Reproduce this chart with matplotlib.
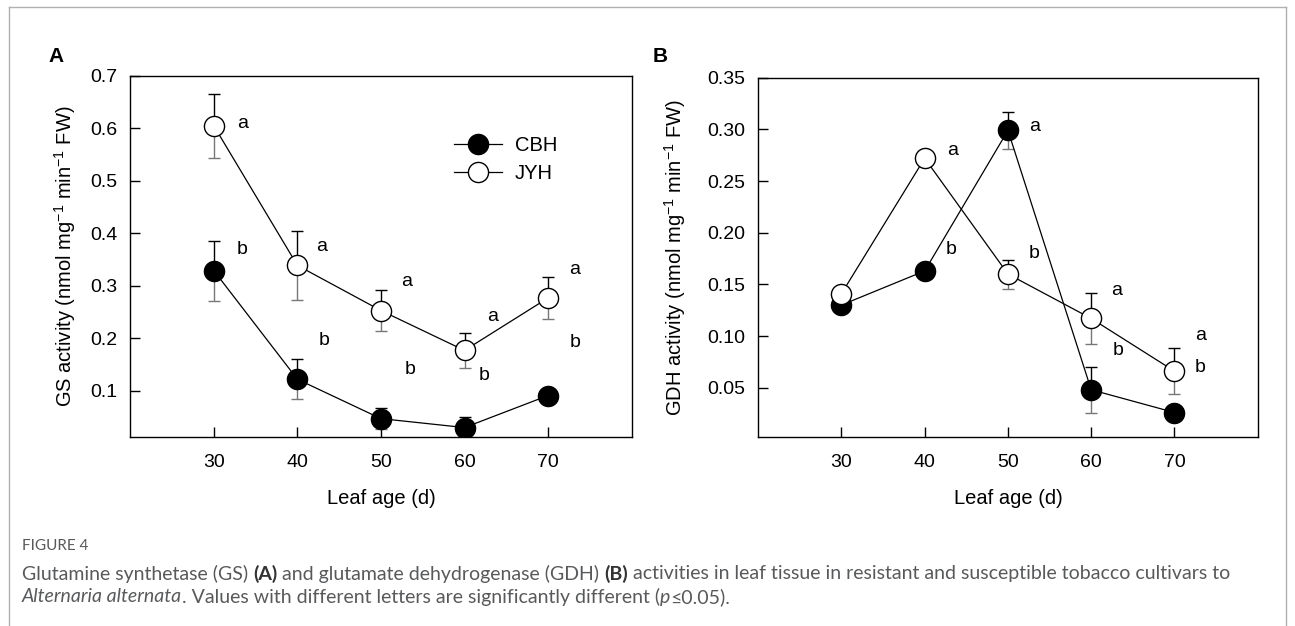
import matplotlib
matplotlib.use("Agg")
import matplotlib.pyplot as plt
from matplotlib.lines import Line2D

plt.rcParams.update({
    "font.family": ["Liberation Sans", "DejaVu Sans"],
    "mathtext.default": "regular",
    "font.size": 14,
})

# ---- Data ----
ages = [30, 40, 50, 60, 70]

gs_cbh = [0.329, 0.122, 0.047, 0.030, 0.091]
gs_cbh_err = [0.057, 0.038, 0.020, 0.020, 0.0]
gs_jyh = [0.605, 0.339, 0.253, 0.177, 0.277]
gs_jyh_err = [0.061, 0.065, 0.039, 0.033, 0.040]

gdh_cbh = [0.130, 0.163, 0.299, 0.048, 0.026]
gdh_cbh_err = [0.0, 0.0, 0.018, 0.022, 0.0]
gdh_jyh = [0.141, 0.272, 0.160, 0.117, 0.066]
gdh_jyh_err = [0.0, 0.0, 0.014, 0.025, 0.022]

# significance letters (text) and where they sit
gs_letters_jyh = ["a", "a", "a", "a", "a"]
gs_letters_cbh = ["b", "b", "b", "b", "b"]
gs_pos_jyh = [(33.4, 0.610), (42.9, 0.376), (53.1, 0.309), (63.4, 0.242), (73.2, 0.332)]
gs_pos_cbh = [(33.4, 0.369), (43.2, 0.196), (53.5, 0.141), (62.3, 0.130), (73.2, 0.193)]

gdh_letters = ["a", "a", "b", "b", "a", "b", "a", "b"]
gdh_pos = [(43.3, 0.280), (53.2, 0.303), (43.2, 0.184), (53.2, 0.180),
           (63.1, 0.1436), (63.2, 0.086), (73.1, 0.1007), (73.1, 0.0694)]

W, H = 1295, 626
fig = plt.figure(figsize=(W / 100, H / 100), dpi=100)


def px_axes(left, top, right, bottom):
    return fig.add_axes([left / W, 1 - bottom / H, (right - left) / W, (bottom - top) / H])


def draw_series(ax, y, err, filled):
    face = "black" if filled else "white"
    up = [0.0] * len(err)
    # upper half of error bar in black, lower half a bit grey (as in original export)
    ax.errorbar(ages, y, yerr=[up, err], fmt="none", ecolor="black",
                elinewidth=1.0, capsize=4, capthick=1.0, zorder=2)
    ax.errorbar(ages, y, yerr=[err, up], fmt="none", ecolor="#777777",
                elinewidth=1.0, capsize=4, capthick=1.0, zorder=2)
    ax.plot(ages, y, "-", color="black", lw=0.9, zorder=3)
    ax.plot(ages, y, "o", ms=14.5, mfc=face, mec="black", mew=1.0,
            linestyle="None", zorder=4 if filled else 5)


def style_axes(ax, yticks, fmt):
    ax.set_xlim(20, 80)
    ax.set_xticks(ages)
    ax.set_yticks(yticks)
    ax.set_yticklabels([fmt.format(v) for v in yticks])
    for s in ax.spines.values():
        s.set_linewidth(1.0)
    ax.tick_params(direction="in", length=7, width=1.0, labelsize=14,
                   top=False, right=False)
    ax.tick_params(axis="x", pad=12)
    ax.tick_params(axis="y", pad=9)
    ax.set_xlabel("Leaf age (d)", fontsize=14.5)
    ax.xaxis.set_label_coords(0.5, -0.145)


# =============== A : GS ===============
axA = px_axes(130.3, 76, 631.6, 437)
draw_series(axA, gs_cbh, gs_cbh_err, True)
draw_series(axA, gs_jyh, gs_jyh_err, False)
axA.set_ylim(0.012, 0.7)
style_axes(axA, [0.1, 0.2, 0.3, 0.4, 0.5, 0.6, 0.7], "{:.1f}")
axA.set_ylabel("GS activity (nmol mg$^{-1}$ min$^{-1}$ FW)", fontsize=14.5)
axA.yaxis.set_label_coords(-0.104, 0.5)
for t, (x, y) in zip(gs_letters_jyh, gs_pos_jyh):
    axA.text(x, y, t, ha="center", va="center", fontsize=14)
for t, (x, y) in zip(gs_letters_cbh, gs_pos_cbh):
    axA.text(x, y, t, ha="center", va="center", fontsize=14)

handles = [
    Line2D([0], [0], color="black", lw=0.9, marker="o", ms=14.5, mfc="black", mec="black"),
    Line2D([0], [0], color="black", lw=0.9, marker="o", ms=14.5, mfc="white", mec="black"),
]
axA.legend(handles, ["CBH", "JYH"], loc="center left", bbox_to_anchor=(0.646, 0.769),
           frameon=False, fontsize=14.5, handlelength=2.4, handletextpad=0.6,
           labelspacing=0.45, borderpad=0, borderaxespad=0)

# =============== B : GDH ===============
axB = px_axes(758.2, 77.7, 1257.7, 437.3)
draw_series(axB, gdh_cbh, gdh_cbh_err, True)
draw_series(axB, gdh_jyh, gdh_jyh_err, False)
axB.set_ylim(0.002, 0.35)
style_axes(axB, [0.05, 0.10, 0.15, 0.20, 0.25, 0.30, 0.35], "{:.2f}")
axB.set_ylabel("GDH activity (nmol mg$^{-1}$ min$^{-1}$ FW)", fontsize=14.5)
axB.yaxis.set_label_coords(-0.1405, 0.5)
for t, (x, y) in zip(gdh_letters, gdh_pos):
    axB.text(x, y, t, ha="center", va="center", fontsize=14)

# panel letters
fig.text(48 / W, 1 - 56 / H, "A", fontsize=15, fontweight="bold", ha="left", va="center")
fig.text(653 / W, 1 - 56 / H, "B", fontsize=15, fontweight="bold", ha="left", va="center")

# outer frame (open at bottom)
frame_c = "#b0b0b0"
fig.add_artist(Line2D([9 / W, 9 / W], [0, 1 - 7 / H], color=frame_c, lw=1.0))
fig.add_artist(Line2D([9 / W, 1286 / W], [1 - 7 / H, 1 - 7 / H], color=frame_c, lw=1.0))
fig.add_artist(Line2D([1286 / W, 1286 / W], [0, 1 - 7 / H], color=frame_c, lw=1.0))

# ---- caption ----
cap_font = ["Lato", "DejaVu Sans"]
cap_color = "#58595b"
fig.text(22 / W, 1 - 546 / H, "FIGURE 4", fontsize=11, color=cap_color,
         family=cap_font, va="center", ha="left")

renderer = fig.canvas.get_renderer()


def write_line(pieces, x0, y):
    x = x0
    for txt, kw in pieces:
        opts = {"fontsize": 14, "color": cap_color, "family": cap_font,
                "va": "center", "ha": "left"}
        opts.update(kw)
        t = fig.text(x / W, 1 - y / H, txt, **opts)
        bb = t.get_window_extent(renderer=renderer)
        x += bb.width


write_line([
    ("Glutamine synthetase (GS) ", {}),
    ("(A)", {"fontweight": "bold", "color": "#333333"}),
    (" and glutamate dehydrogenase (GDH) ", {}),
    ("(B)", {"fontweight": "bold", "color": "#333333"}),
    (" activities in leaf tissue in resistant and susceptible tobacco cultivars to", {}),
], 22, 574)
write_line([
    ("Alternaria alternata", {"style": "italic"}),
    (". Values with different letters are significantly different (", {}),
    ("p", {"style": "italic"}),
    ("≤0.05).", {}),
], 22, 597)

fig.savefig("out.png", dpi=100, facecolor="white")
